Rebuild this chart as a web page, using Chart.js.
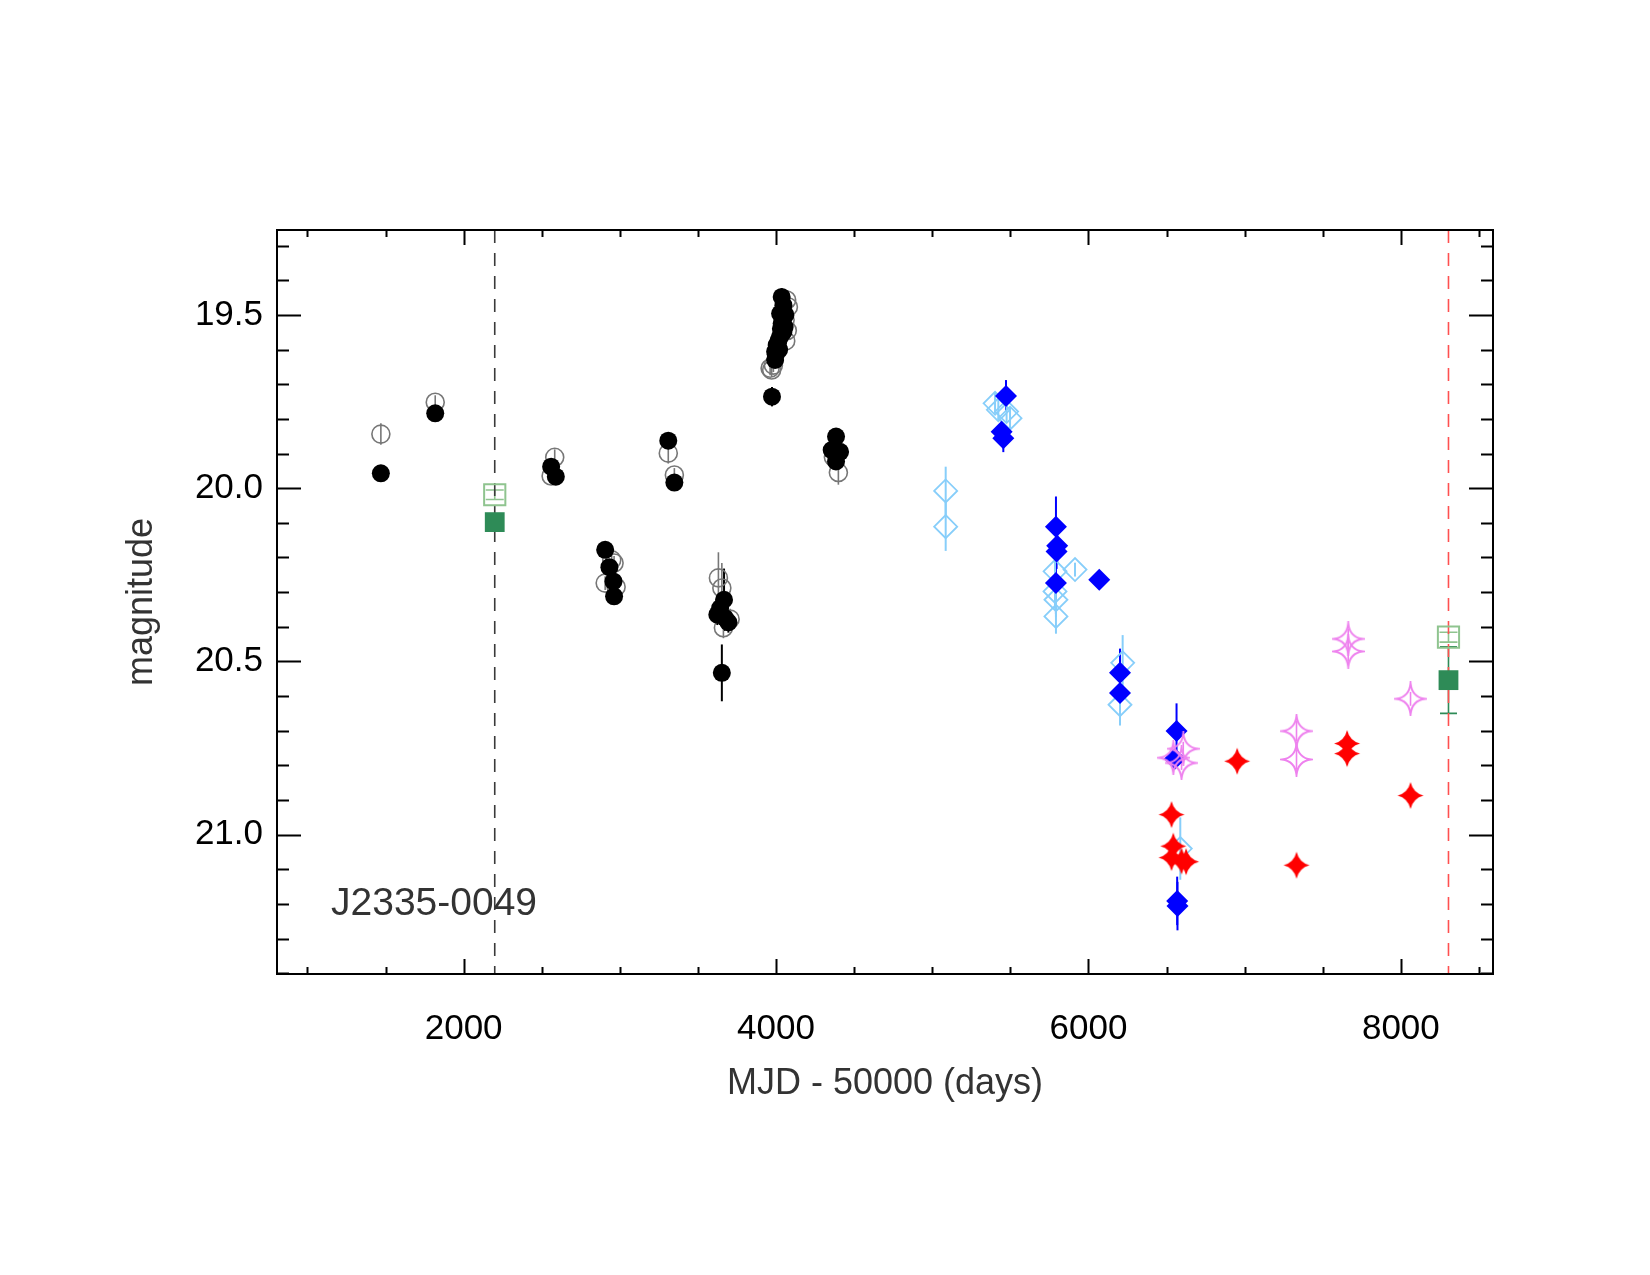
<!DOCTYPE html>
<html>
<head>
<meta charset="utf-8">
<script src="https://cdn.jsdelivr.net/npm/chart.js@4.4.1/dist/chart.umd.min.js"></script>
<style>
html,body{margin:0;padding:0;background:#ffffff;}
canvas{display:block;}
</style>
</head>
<body>
<canvas id="chart" width="1650" height="1275"></canvas>
<script>
// ---------------- data (MJD-50000, magnitude, error) ----------------
const grayMjd = [1470, 1818, 2583, 2560, 3310, 3349, 2948, 2963, 2906, 2976, 3631, 3653, 3706, 3663, 4068, 4079, 4058, 3962, 3983, 3972, 4367, 4399, 4072, 4062];
const grayMag = [19.844, 19.752, 19.911, 19.965, 19.899, 19.962, 20.207, 20.216, 20.274, 20.285, 20.259, 20.288, 20.378, 20.403, 19.457, 19.477, 19.515, 19.654, 19.645, 19.659, 19.910, 19.955, 19.545, 19.575];
const grayErr = [0.031, 0.020, 0.023, 0.015, 0.030, 0.020, 0.020, 0.020, 0.020, 0.020, 0.074, 0.072, 0.030, 0.030, 0.020, 0.020, 0.020, 0.020, 0.020, 0.020, 0.020, 0.035, 0.020, 0.020];

const blackMjd = [1470, 1818, 2560, 2590, 3310, 3349, 2906, 2933, 2959, 2963, 3667, 3642, 3624, 3674, 3695, 3653, 4036, 4047, 4026, 4036, 4047, 4026, 4004, 3994, 3994, 3974, 4384, 4356, 4410, 4384, 4042, 4031, 4015, 4055, 4060, 4020, 3998];
const blackMag = [19.957, 19.784, 19.938, 19.967, 19.863, 19.984, 20.178, 20.228, 20.269, 20.312, 20.322, 20.346, 20.365, 20.375, 20.387, 20.533, 19.448, 19.472, 19.496, 19.525, 19.549, 19.563, 19.587, 19.606, 19.630, 19.736, 19.851, 19.890, 19.895, 19.923, 19.510, 19.540, 19.575, 19.535, 19.500, 19.600, 19.615];
const blackErr = [0.012, 0.012, 0.015, 0.015, 0.015, 0.015, 0.015, 0.015, 0.015, 0.015, 0.090, 0.030, 0.030, 0.030, 0.030, 0.082, 0.025, 0.020, 0.020, 0.020, 0.020, 0.020, 0.020, 0.020, 0.020, 0.028, 0.015, 0.015, 0.015, 0.015, 0.020, 0.020, 0.020, 0.020, 0.020, 0.020, 0.020];

const lightBlueMjd = [5086, 5086, 5402, 5423, 5476, 5498, 5914, 5786, 5786, 5792, 5792, 6219, 6202, 6588];
const lightBlueMag = [20.008, 20.111, 19.755, 19.774, 19.779, 19.798, 20.235, 20.240, 20.298, 20.322, 20.370, 20.504, 20.625, 21.040];
const lightBlueErr = [0.070, 0.070, 0.030, 0.030, 0.030, 0.030, 0.020, 0.050, 0.050, 0.050, 0.050, 0.080, 0.060, 0.090];

const blueMjd = [5472, 5444, 5455, 5792, 5800, 5796, 5792, 6069, 6202, 6202, 6564, 6553, 6568, 6570];
const blueMag = [19.734, 19.837, 19.856, 20.111, 20.166, 20.183, 20.274, 20.264, 20.533, 20.591, 20.701, 20.781, 21.191, 21.206];
const blueErr = [0.046, 0.030, 0.040, 0.087, 0.050, 0.050, 0.090, 0.015, 0.070, 0.050, 0.080, 0.020, 0.070, 0.070];

const violetMjd = [6607, 6543, 6596, 7332, 7332, 7663, 7663, 8062];
const violetMag = [20.752, 20.778, 20.793, 20.701, 20.783, 20.435, 20.471, 20.608];
const violetErr = [0.020, 0.020, 0.020, 0.030, 0.030, 0.030, 0.030, 0.020];

const redMjd = [6532, 6543, 6532, 6596, 6625, 6952, 7332, 7656, 7656, 8062];
const redMag = [20.942, 21.033, 21.066, 21.076, 21.078, 20.788, 21.088, 20.737, 20.766, 20.887];

const greenOpenMjd = [2199, 8305];
const greenOpenMag = [20.019, 20.430];
const greenOpenErr = [0.0135, 0.0144];

const greenFilledMjd = [2199, 8305];
const greenFilledMag = [20.098, 20.554];
const greenFilledErr = [0.010, 0.096];

const epochLineMjd = [2199, 8305];

// ---------------- axes ----------------
const xRange = [805, 8590];
const yRange = [19.255, 21.402];
const xMajorTicks = [2000, 4000, 6000, 8000];
const xMinorTicks = [1000, 1500, 2500, 3000, 3500, 4500, 5000, 5500, 6500, 7000, 7500, 8500];
const yMajorTicks = [19.5, 20.0, 20.5, 21.0];
const yMinorTicks = [19.3, 19.4, 19.6, 19.7, 19.8, 19.9, 20.1, 20.2, 20.3, 20.4, 20.6, 20.7, 20.8, 20.9, 21.1, 21.2, 21.3, 21.4];
const xTitle = 'MJD - 50000 (days)';
const yTitle = 'magnitude';
const objectName = 'J2335-0049';

// ---------------- helpers ----------------
const FONT = "'Liberation Sans', Arial, Helvetica, sans-serif";
function pts(xs, ys) { return xs.map((v, i) => ({x: v, y: ys[i]})); }

function starCanvas(rx, ry, k, fill, stroke, lw) {
  const w = Math.ceil(2 * rx + lw + 2), h = Math.ceil(2 * ry + lw + 2);
  const c = document.createElement('canvas');
  c.width = w; c.height = h;
  const g = c.getContext('2d');
  g.translate(w / 2, h / 2);
  g.beginPath();
  g.moveTo(0, -ry);
  g.quadraticCurveTo(k * rx, -k * ry, rx, 0);
  g.quadraticCurveTo(k * rx, k * ry, 0, ry);
  g.quadraticCurveTo(-k * rx, k * ry, -rx, 0);
  g.quadraticCurveTo(-k * rx, -k * ry, 0, -ry);
  g.closePath();
  if (fill) { g.fillStyle = fill; g.fill(); }
  if (stroke) { g.strokeStyle = stroke; g.lineWidth = lw; g.lineJoin = 'miter'; g.stroke(); }
  return c;
}
const redStar = starCanvas(13, 13.5, 0.2, '#ff0000', null, 0);
const violetStar = starCanvas(14.5, 15.5, 0.1, null, '#ee82ee', 2);

// ---------------- plugins ----------------
const errorBarPlugin = {
  id: 'errorBars',
  beforeDatasetsDraw(chart) {
    const {ctx, chartArea: a, scales: {x, y}} = chart;
    ctx.save();
    ctx.beginPath(); ctx.rect(a.left, a.top, a.right - a.left, a.bottom - a.top); ctx.clip();
    chart.data.datasets.forEach(ds => {
      if (!ds.err) return;
      ctx.strokeStyle = ds.errColor;
      ctx.lineWidth = ds.errWidth || 1.6;
      ds.data.forEach((p, i) => {
        const e = ds.err[i];
        const px = x.getPixelForValue(p.x);
        const y1 = y.getPixelForValue(p.y - e);
        const y2 = y.getPixelForValue(p.y + e);
        ctx.beginPath();
        ctx.moveTo(px, y1); ctx.lineTo(px, y2);
        if (ds.capHalf) {
          ctx.moveTo(px - ds.capHalf, y1); ctx.lineTo(px + ds.capHalf, y1);
          ctx.moveTo(px - ds.capHalf, y2); ctx.lineTo(px + ds.capHalf, y2);
        }
        ctx.stroke();
      });
    });
    // epoch lines
    const lineColors = ['#3a3a3a', '#ff5050'];
    epochLineMjd.forEach((m, i) => {
      const px = x.getPixelForValue(m);
      ctx.strokeStyle = lineColors[i];
      ctx.lineWidth = 1.6;
      ctx.setLineDash([13, 10]);
      ctx.beginPath(); ctx.moveTo(px, a.top); ctx.lineTo(px, a.bottom); ctx.stroke();
    });
    ctx.setLineDash([]);
    ctx.restore();
  }
};

const framePlugin = {
  id: 'frame',
  afterDraw(chart) {
    const {ctx, chartArea: a, scales: {x, y}} = chart;
    ctx.save();
    ctx.strokeStyle = '#000';
    ctx.lineWidth = 2;
    ctx.beginPath();
    const tick = (vals, len, horiz) => {
      vals.forEach(v => {
        if (horiz) {
          const px = Math.round(x.getPixelForValue(v)) + 0.5;
          ctx.moveTo(px, a.bottom); ctx.lineTo(px, a.bottom - len);
          ctx.moveTo(px, a.top); ctx.lineTo(px, a.top + len);
        } else {
          const py = Math.round(y.getPixelForValue(v)) + 0.5;
          ctx.moveTo(a.left, py); ctx.lineTo(a.left + len, py);
          ctx.moveTo(a.right, py); ctx.lineTo(a.right - len, py);
        }
      });
    };
    tick(xMajorTicks, 15, true);
    tick(xMinorTicks, 7, true);
    tick(yMajorTicks, 24, false);
    tick(yMinorTicks, 12, false);
    ctx.stroke();
    ctx.strokeRect(a.left, a.top, a.right - a.left, a.bottom - a.top);
    // object label
    ctx.fillStyle = '#333';
    ctx.font = '39px ' + FONT;
    ctx.textAlign = 'left';
    ctx.textBaseline = 'alphabetic';
    ctx.fillText(objectName, a.left + 54, a.bottom - 59);
    ctx.restore();
  }
};

// ---------------- chart ----------------
const tickFont = {family: FONT, size: 35};
const titleFont = {family: FONT, size: 36};

new Chart(document.getElementById('chart'), {
  type: 'scatter',
  data: {
    datasets: [
      {label: 'green filled', data: pts(greenFilledMjd, greenFilledMag), err: greenFilledErr, errColor: '#2e8b57', capHalf: 8.5,
       pointStyle: 'rect', pointRadius: 14, backgroundColor: '#2e8b57', borderColor: '#2e8b57', borderWidth: 0, order: 0},
      {label: 'green open', data: pts(greenOpenMjd, greenOpenMag), err: greenOpenErr, errColor: '#8fc48f', capHalf: 9,
       pointStyle: 'rect', pointRadius: 15, backgroundColor: 'rgba(0,0,0,0)', borderColor: '#8fc48f', borderWidth: 2, order: 1},
      {label: 'red', data: pts(redMjd, redMag),
       pointStyle: redStar, pointRadius: 13, backgroundColor: '#ff0000', borderColor: '#ff0000', order: 2},
      {label: 'violet', data: pts(violetMjd, violetMag), err: violetErr, errColor: '#ee82ee',
       pointStyle: violetStar, pointRadius: 15, backgroundColor: 'rgba(0,0,0,0)', borderColor: '#ee82ee', order: 3},
      {label: 'blue', data: pts(blueMjd, blueMag), err: blueErr, errColor: '#0000ff', errWidth: 2,
       pointStyle: 'rectRot', pointRadius: 11, backgroundColor: '#0000ff', borderColor: '#0000ff', borderWidth: 0, order: 4},
      {label: 'light blue', data: pts(lightBlueMjd, lightBlueMag), err: lightBlueErr, errColor: '#87cefa', errWidth: 2,
       pointStyle: 'rectRot', pointRadius: 11.5, backgroundColor: 'rgba(0,0,0,0)', borderColor: '#87cefa', borderWidth: 1.8, order: 5},
      {label: 'black', data: pts(blackMjd, blackMag), err: blackErr, errColor: '#000000', errWidth: 2,
       pointStyle: 'circle', pointRadius: 9, backgroundColor: '#000000', borderColor: '#000000', borderWidth: 0, order: 6},
      {label: 'gray', data: pts(grayMjd, grayMag), err: grayErr, errColor: '#777777',
       pointStyle: 'circle', pointRadius: 9, backgroundColor: 'rgba(0,0,0,0)', borderColor: '#777777', borderWidth: 1.6, order: 7}
    ]
  },
  options: {
    responsive: false,
    animation: false,
    devicePixelRatio: 1,
    layout: {padding: {top: 230, right: 157, left: 0, bottom: 0}},
    plugins: {legend: {display: false}, tooltip: {enabled: false}},
    elements: {point: {hoverRadius: 0}},
    scales: {
      x: {
        type: 'linear', position: 'bottom', min: xRange[0], max: xRange[1],
        grid: {display: false, drawTicks: false}, border: {display: false},
        afterBuildTicks: s => { s.ticks = xMajorTicks.map(v => ({value: v})); },
        ticks: {font: tickFont, color: '#000', padding: 34, maxRotation: 0, autoSkip: false, callback: v => String(v)},
        title: {display: true, text: xTitle, font: titleFont, color: '#333', padding: {top: 0, bottom: 169}},
        afterFit: s => { s.height = 301; }
      },
      y: {
        type: 'linear', position: 'left', reverse: true, min: yRange[0], max: yRange[1],
        grid: {display: false, drawTicks: false}, border: {display: false},
        afterBuildTicks: s => { s.ticks = yMajorTicks.map(v => ({value: v})); },
        ticks: {font: tickFont, color: '#000', padding: 14, autoSkip: false, callback: v => Number(v).toFixed(1)},
        title: {display: true, text: yTitle, font: titleFont, color: '#333', padding: {top: 120, bottom: 0}},
        afterFit: s => { s.width = 277; }
      }
    }
  },
  plugins: [errorBarPlugin, framePlugin]
});
</script>
</body>
</html>
